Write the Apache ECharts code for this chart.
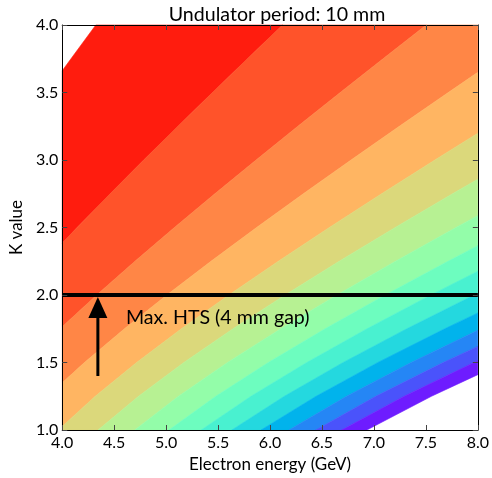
<!DOCTYPE html>
<html><head><meta charset="utf-8">
<script src="https://cdn.jsdelivr.net/npm/echarts@6/dist/echarts.min.js"></script>
<style>html,body{margin:0;padding:0;background:#fff}#c{width:492px;height:478px}</style>
</head><body><div id="c"></div>
<script>
// ---- data ----
const chartTitle = 'Undulator period: 10 mm';
const xName = 'Electron energy (GeV)';
const yName = 'K value';
const xMin = 4.0, xMax = 8.0, xStep = 0.5;
const yMin = 1.0, yMax = 4.0, yStep = 0.5;
// photon-energy contour levels (keV)
const levels = [2, 4, 6, 8, 10, 12, 14, 16, 18, 20, 22, 24, 26, 28, 30];
// K values at which each contour line is sampled
const kValues = [1.0, 1.25, 1.5, 1.75, 2.0, 2.25, 2.5, 2.75, 3.0, 3.25, 3.5, 3.75, 4.0];
// electron energy (GeV) of each contour line at those K values
const line02 = [1.765, 1.923, 2.101, 2.293, 2.496, 2.708, 2.927, 3.151, 3.380, 3.612, 3.847, 4.084, 4.323];
const line04 = [2.499, 2.723, 2.974, 3.246, 3.534, 3.834, 4.143, 4.461, 4.784, 5.113, 5.446, 5.782, 6.120];
const line06 = [3.063, 3.338, 3.646, 3.979, 4.332, 4.700, 5.080, 5.469, 5.866, 6.268, 6.676, 7.088, 7.503];
const line08 = [3.541, 3.858, 4.214, 4.599, 5.007, 5.432, 5.871, 6.321, 6.780, 7.245, 7.716, 8.192, 8.673];
const line10 = [3.962, 4.318, 4.716, 5.147, 5.604, 6.080, 6.571, 7.074, 7.587, 8.108, 8.636, 9.169, 9.706];
const line12 = [4.345, 4.735, 5.171, 5.644, 6.145, 6.666, 7.205, 7.757, 8.320, 8.891, 9.469, 10.054, 10.643];
const line14 = [4.698, 5.119, 5.591, 6.103, 6.644, 7.208, 7.790, 8.387, 8.995, 9.613, 10.238, 10.870, 11.507];
const line16 = [5.027, 5.478, 5.983, 6.530, 7.109, 7.713, 8.336, 8.975, 9.626, 10.287, 10.956, 11.632, 12.314];
const line18 = [5.337, 5.816, 6.353, 6.933, 7.548, 8.189, 8.851, 9.529, 10.220, 10.922, 11.632, 12.350, 13.074];
const line20 = [5.632, 6.137, 6.703, 7.316, 7.964, 8.641, 9.339, 10.055, 10.784, 11.524, 12.274, 13.031, 13.795];
const line22 = [5.913, 6.443, 7.037, 7.681, 8.362, 9.072, 9.805, 10.556, 11.322, 12.099, 12.886, 13.681, 14.483];
const line24 = [6.182, 6.736, 7.358, 8.030, 8.742, 9.485, 10.251, 11.036, 11.837, 12.650, 13.473, 14.304, 15.142];
const line26 = [6.441, 7.018, 7.666, 8.367, 9.108, 9.882, 10.680, 11.499, 12.333, 13.180, 14.037, 14.903, 15.776];
const line28 = [6.690, 7.291, 7.963, 8.691, 9.462, 10.265, 11.095, 11.945, 12.811, 13.691, 14.581, 15.481, 16.388];
const line30 = [6.932, 7.554, 8.251, 9.005, 9.804, 10.636, 11.496, 12.377, 13.274, 14.186, 15.109, 16.041, 16.981];
const contourLines = [line02, line04, line06, line08, line10, line12, line14, line16, line18, line20, line22, line24, line26, line28, line30];
// annotation
const limitK = 2.0;                       // horizontal "Max. HTS" line
const arrowE = 4.343, arrowK0 = 1.40, arrowK1 = 1.985;
const noteText = 'Max. HTS (4 mm gap)';
const noteE = 4.613, noteK = 1.833;

// ---- colours: matplotlib "rainbow_r" at band midpoints ----
function rainbowR(v) {
  const i = Math.min(255, Math.floor(v * 256));
  const t = 1 - i / 255;
  const cl = a => Math.round(Math.max(0, Math.min(1, a)) * 255);
  return 'rgb(' + cl(Math.abs(2 * t - 0.5)) + ',' + cl(Math.sin(Math.PI * t)) + ',' + cl(Math.cos(Math.PI * t / 2)) + ')';
}
const lv0 = levels[0], lv1 = levels[levels.length - 1];
const bandColors = levels.slice(0, -1).map((l, i) => rainbowR(((l + levels[i + 1]) / 2 - lv0) / (lv1 - lv0)));
const bandIndex = levels.slice(0, -1).map((_, i) => [i]);

// polygon clipping to the plotted data range (Sutherland-Hodgman)
function clipPoly(pts) {
  const edges = [
    [p => p[0] >= xMin, (a, b) => { const t = (xMin - a[0]) / (b[0] - a[0]); return [xMin, a[1] + t * (b[1] - a[1])]; }],
    [p => p[0] <= xMax, (a, b) => { const t = (xMax - a[0]) / (b[0] - a[0]); return [xMax, a[1] + t * (b[1] - a[1])]; }],
    [p => p[1] >= yMin, (a, b) => { const t = (yMin - a[1]) / (b[1] - a[1]); return [a[0] + t * (b[0] - a[0]), yMin]; }],
    [p => p[1] <= yMax, (a, b) => { const t = (yMax - a[1]) / (b[1] - a[1]); return [a[0] + t * (b[0] - a[0]), yMax]; }]
  ];
  let out = pts;
  for (const [inside, inter] of edges) {
    const inp = out; out = [];
    if (!inp.length) break;
    for (let i = 0; i < inp.length; i++) {
      const cur = inp[i], prev = inp[(i + inp.length - 1) % inp.length];
      if (inside(cur)) {
        if (!inside(prev)) out.push(inter(prev, cur));
        out.push(cur);
      } else if (inside(prev)) out.push(inter(prev, cur));
    }
  }
  return out;
}

const FONT = 'Lato';
const chart = echarts.init(document.getElementById('c'), null, {renderer: 'canvas'});
const axisCommon = {
  z: 10,
  axisLine: {show: true, onZero: false, lineStyle: {color: '#000', width: 1}},
  axisTick: {show: true, inside: true, length: 5, lineStyle: {color: '#444', width: 1}},
  splitLine: {show: false}
};
const fmt = v => v.toFixed(1);
chart.setOption({
  animation: false,
  backgroundColor: '#fff',
  textStyle: {fontFamily: FONT},
  title: {
    text: chartTitle, left: 272, top: 0, textAlign: 'center',
    textStyle: {fontFamily: FONT, fontSize: 19.6, fontWeight: 'normal', color: '#000'}
  },
  grid: {left: 62, right: 10, top: 25, bottom: 48, containLabel: false},
  xAxis: [
    Object.assign({}, axisCommon, {
      type: 'value', min: xMin, max: xMax, interval: xStep, position: 'bottom',
      name: xName, nameLocation: 'middle', nameGap: 26,
      nameTextStyle: {fontFamily: FONT, fontSize: 17, color: '#000'},
      axisLabel: {formatter: fmt, fontFamily: FONT, fontSize: 16, color: '#000', margin: 5}
    }),
    Object.assign({}, axisCommon, {
      type: 'value', min: xMin, max: xMax, interval: xStep, position: 'top',
      axisLabel: {show: false}
    })
  ],
  yAxis: [
    Object.assign({}, axisCommon, {
      type: 'value', min: yMin, max: yMax, interval: yStep, position: 'left',
      name: yName, nameLocation: 'middle', nameGap: 35, nameRotate: 90,
      nameTextStyle: {fontFamily: FONT, fontSize: 17, color: '#000'},
      axisLabel: {formatter: fmt, fontFamily: FONT, fontSize: 16, color: '#000', margin: 4}
    }),
    Object.assign({}, axisCommon, {
      type: 'value', min: yMin, max: yMax, interval: yStep, position: 'right',
      axisLabel: {show: false}
    })
  ],
  series: [
    {
      type: 'custom', name: 'bands', xAxisIndex: 0, yAxisIndex: 0, z: 1, silent: true,
      data: bandIndex,
      renderItem: function (params, api) {
        const i = api.value(0);
        const lo = contourLines[i], hi = contourLines[i + 1];
        let poly = [];
        for (let j = 0; j < kValues.length; j++) poly.push([lo[j], kValues[j]]);
        for (let j = kValues.length - 1; j >= 0; j--) poly.push([hi[j], kValues[j]]);
        poly = clipPoly(poly);
        if (poly.length < 3) return null;
        return {
          type: 'polygon',
          shape: {points: poly.map(p => api.coord(p))},
          style: {fill: bandColors[i], stroke: bandColors[i], lineWidth: 0.6}
        };
      }
    },
    {
      type: 'line', name: 'limit', z: 5, silent: true, symbol: 'none',
      data: [[xMin, limitK], [xMax, limitK]],
      lineStyle: {color: '#000', width: 4}
    },
    {
      type: 'custom', name: 'arrow', z: 6, silent: true,
      data: [[arrowE, arrowK0, arrowK1]],
      renderItem: function (params, api) {
        const p0 = api.coord([api.value(0), api.value(1)]);
        const p1 = api.coord([api.value(0), api.value(2)]);
        const headL = 21, headW = 19;
        return {
          type: 'group', children: [
            {type: 'line', shape: {x1: p0[0], y1: p0[1], x2: p1[0], y2: p1[1] + headL - 1}, style: {stroke: '#000', lineWidth: 3}},
            {type: 'polygon', shape: {points: [[p1[0], p1[1]], [p1[0] - headW / 2, p1[1] + headL], [p1[0] + headW / 2, p1[1] + headL]]}, style: {fill: '#000'}}
          ]
        };
      }
    },
    {
      type: 'custom', name: 'note', z: 7, silent: true,
      data: [[noteE, noteK]],
      renderItem: function (params, api) {
        const p = api.coord([api.value(0), api.value(1)]);
        return {
          type: 'text', x: p[0], y: p[1],
          style: {text: noteText, fill: '#000', font: '19.6px ' + FONT, textAlign: 'left', textVerticalAlign: 'middle'}
        };
      }
    }
  ]
});
</script>
</body></html>
